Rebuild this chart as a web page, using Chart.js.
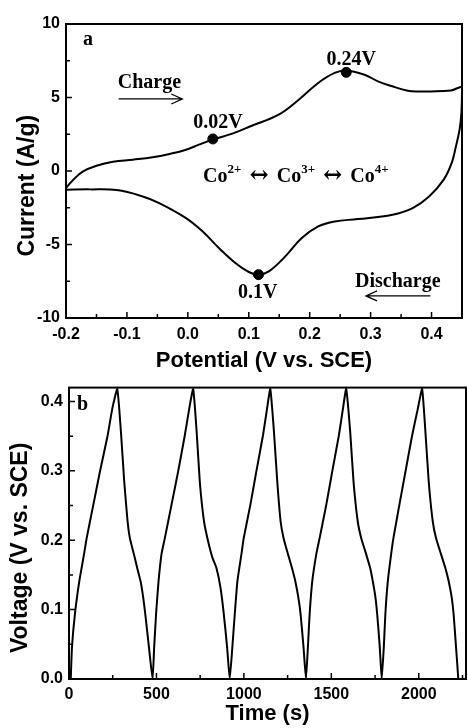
<!DOCTYPE html>
<html>
<head>
<meta charset="utf-8">
<script src="https://cdn.jsdelivr.net/npm/chart.js@4/dist/chart.umd.min.js"></script>
<style>
  html, body { margin: 0; padding: 0; background: #fff; }
  #wrap { position: relative; width: 468px; height: 728px; }
  #cv { position: absolute; left: 0; top: 0; }
  #gcd { position: absolute; left: 0; top: 372px; }
</style>
</head>
<body>
<div id="wrap">
  <canvas id="cv" width="468" height="372"></canvas>
  <canvas id="gcd" width="468" height="356"></canvas>
</div>
<script>
// (a) CV loop: anodic sweep -0.2 -> 0.45 V, then back along the cathodic branch
const cvPotential = [
  -0.2, -0.188, -0.172, -0.15, -0.123, -0.09, -0.058, -0.03, -0.003, 0.018, 0.04, 0.073,
  0.105, 0.149, 0.182, 0.214, 0.241, 0.26, 0.29, 0.312, 0.334, 0.361, 0.38, 0.399, 0.432, 0.45,
  0.449, 0.446, 0.44, 0.433, 0.42, 0.396, 0.369, 0.336, 0.279, 0.241, 0.214, 0.187, 0.16,
  0.133, 0.116, 0.1, 0.078, 0.051, 0.024, -0.003, -0.047, -0.074, -0.117, -0.16, -0.2
];
const cvCurrent = [
  -1.16, -0.59, -0.03, 0.36, 0.63, 0.77, 0.93, 1.16, 1.45, 1.79, 2.13, 2.54,
  3.08, 3.83, 4.85, 5.99, 6.67, 6.84, 6.55, 6.1, 5.78, 5.46, 5.41, 5.41, 5.48, 5.65,
  3.94, 2.81, 1.67, 0.54, -0.59, -1.73, -2.52, -2.97, -3.27, -3.43, -3.77, -4.56, -5.81,
  -6.83, -7.05, -6.87, -6.26, -5.24, -4.1, -3.2, -2.18, -1.73, -1.3, -1.25, -1.27
];
// marked redox peaks
const peakPotential = [0.041, 0.26, 0.116];
const peakCurrent = [2.18, 6.71, -7.05];
const peakLabels = ['0.02V', '0.24V', '0.1V'];

// (b) galvanostatic charge / discharge, 5 cycles
const gcdTime = [
  10, 17, 34, 59, 86, 101, 139, 177, 221, 247, 276,
  297, 316, 335, 348, 371, 390, 409, 424, 436, 457, 478,
  487, 498, 512, 529, 548, 586, 624, 662, 687, 710,
  730, 748, 772, 795, 820, 843, 866, 885, 904, 919,
  934, 948, 963, 986, 999, 1037, 1071, 1109, 1132, 1151,
  1172, 1191, 1210, 1227, 1252, 1275, 1294, 1311, 1324, 1341, 1355,
  1366, 1376, 1391, 1414, 1433, 1471, 1505, 1543, 1566, 1585,
  1608, 1627, 1651, 1671, 1699, 1722, 1737, 1752, 1762, 1777, 1788,
  1800, 1809, 1823, 1842, 1855, 1889, 1924, 1962, 1994, 2019,
  2038, 2057, 2080, 2099, 2127, 2152, 2171, 2188, 2199, 2213, 2226
];
const gcdVoltage = [
  0, 0.046, 0.094, 0.141, 0.18, 0.203, 0.251, 0.299, 0.351, 0.389, 0.418,
  0.356, 0.284, 0.227, 0.203, 0.18, 0.16, 0.141, 0.118, 0.094, 0.046, 0,
  0.046, 0.094, 0.141, 0.18, 0.203, 0.251, 0.299, 0.351, 0.389, 0.418,
  0.356, 0.284, 0.227, 0.199, 0.175, 0.16, 0.132, 0.094, 0.046, 0,
  0.046, 0.094, 0.141, 0.18, 0.203, 0.251, 0.299, 0.351, 0.389, 0.418,
  0.356, 0.284, 0.227, 0.203, 0.18, 0.16, 0.141, 0.118, 0.094, 0.046, 0,
  0.046, 0.094, 0.141, 0.18, 0.203, 0.251, 0.299, 0.351, 0.389, 0.418,
  0.356, 0.284, 0.227, 0.203, 0.18, 0.16, 0.141, 0.118, 0.094, 0.046, 0,
  0.046, 0.094, 0.141, 0.18, 0.203, 0.251, 0.299, 0.351, 0.389, 0.418,
  0.356, 0.284, 0.227, 0.203, 0.18, 0.16, 0.141, 0.118, 0.094, 0.046, 0
];

const cvTicksX = [-0.2, -0.1, 0, 0.1, 0.2, 0.3, 0.4];
const cvTicksY = [-10, -5, 0, 5, 10];
const gcdTicksX = [0, 500, 1000, 1500, 2000];
const gcdTicksY = [0, 0.1, 0.2, 0.3, 0.4];

const SANS = '"Liberation Sans", Arial, sans-serif';
const SERIF = '"Liberation Serif", "Times New Roman", serif';
const tickFont = { family: SANS, size: 16, weight: 'bold' };
const titleFont = { family: SANS, size: 22, weight: 'bold' };

// box round the plot + inward ticks (major from the scale, minor half way)
const framePlugin = {
  id: 'frame',
  afterDraw(chart) {
    const { ctx, chartArea: a, scales: { x, y } } = chart;
    const minors = (vals, max) => {
      const out = [];
      const step = vals[1] - vals[0];
      vals.forEach(v => { if (v + step / 2 < max - 1e-9) out.push(v + step / 2); });
      return out;
    };
    const xv = x.ticks.map(t => t.value);
    const yv = y.ticks.map(t => t.value);
    ctx.save();
    ctx.strokeStyle = '#000';
    ctx.lineWidth = 1.5;
    ctx.beginPath();
    xv.forEach(v => { const p = x.getPixelForValue(v); ctx.moveTo(p, a.bottom); ctx.lineTo(p, a.bottom - 6); });
    minors(xv, x.max).forEach(v => { const p = x.getPixelForValue(v); ctx.moveTo(p, a.bottom); ctx.lineTo(p, a.bottom - 4); });
    yv.forEach(v => { const p = y.getPixelForValue(v); ctx.moveTo(a.left, p); ctx.lineTo(a.left + 6, p); });
    minors(yv, y.max).forEach(v => { const p = y.getPixelForValue(v); ctx.moveTo(a.left, p); ctx.lineTo(a.left + 4, p); });
    ctx.stroke();
    ctx.lineWidth = 2;
    ctx.strokeRect(a.left, a.top, a.right - a.left, a.bottom - a.top);

    // rotated y title
    const yt = chart.options.plugins.frame;
    ctx.font = 'bold 23px ' + SANS;
    ctx.fillStyle = '#000';
    ctx.textAlign = 'center';
    ctx.textBaseline = 'middle';
    ctx.translate(yt.titleX, y.getPixelForValue(yt.titleAt));
    ctx.rotate(-Math.PI / 2);
    ctx.fillText(yt.title, 0, 0);
    ctx.restore();
  }
};

// text labels and arrows placed in data coordinates
const notesPlugin = {
  id: 'notes',
  afterDraw(chart) {
    const { ctx, scales: { x, y } } = chart;
    const notes = chart.options.plugins.notes.items;
    ctx.save();
    ctx.fillStyle = '#000';
    ctx.strokeStyle = '#000';
    ctx.textBaseline = 'alphabetic';
    notes.forEach(n => {
      if (n.arrow) {
        const x1 = x.getPixelForValue(n.from), x2 = x.getPixelForValue(n.to), py = y.getPixelForValue(n.y);
        const d = x2 > x1 ? -1 : 1;
        ctx.lineWidth = 1.3;
        ctx.beginPath();
        ctx.moveTo(x1, py); ctx.lineTo(x2, py);
        ctx.moveTo(x2 + d * 11, py - 5); ctx.lineTo(x2, py); ctx.lineTo(x2 + d * 11, py + 5);
        ctx.stroke();
      } else if (n.parts) {
        let px = x.getPixelForValue(n.x);
        const py = y.getPixelForValue(n.y);
        ctx.textAlign = 'left';
        n.parts.forEach(([s, kind]) => {
          if (kind === 'sup') ctx.font = 'bold 13px ' + SERIF;
          else if (kind === 'sym') ctx.font = 'bold 23px "DejaVu Serif", serif';
          else ctx.font = 'bold 20px ' + SERIF;
          ctx.fillText(s, px, kind === 'sup' ? py - 9 : py);
          px += ctx.measureText(s).width;
        });
      } else {
        ctx.font = 'bold 20px ' + SERIF;
        ctx.textAlign = n.align || 'center';
        ctx.fillText(n.text, x.getPixelForValue(n.x), y.getPixelForValue(n.y));
      }
    });
    ctx.restore();
  }
};

const fixedTicks = list => scale => { scale.ticks = list.map(value => ({ value })); };
const oneDecimal = v => (Math.abs(v) < 1e-9 ? 0 : v).toFixed(1);

new Chart(document.getElementById('cv'), {
  type: 'scatter',
  data: {
    datasets: [{
      data: peakPotential.map((p, i) => ({ x: p, y: peakCurrent[i] })),
      pointRadius: 5, pointBackgroundColor: '#000', pointBorderColor: '#000', showLine: false
    }, {
      data: cvPotential.map((p, i) => ({ x: p, y: cvCurrent[i] })),
      showLine: true, borderColor: '#000', borderWidth: 2, pointRadius: 0, tension: 0.4, fill: false
    }]
  },
  options: {
    responsive: false, animation: false, devicePixelRatio: 1,
    layout: { padding: { top: 24, right: 2, left: 0, bottom: 0 } },
    plugins: {
      legend: { display: false }, tooltip: { enabled: false },
      frame: { title: 'Current (A/g)', titleX: 28, titleAt: -1.0 },
      notes: { items: [
        { text: 'a', x: -0.172, y: 8.57, align: 'left' },
        { text: 'Charge', x: -0.063, y: 5.65 },
        { arrow: true, from: -0.1136, to: -0.0092, y: 4.9 },
        { text: peakLabels[0], x: 0.0495, y: 2.93 },
        { text: peakLabels[1], x: 0.268, y: 7.21 },
        { text: peakLabels[2], x: 0.1147, y: -8.64 },
        { text: 'Discharge', x: 0.3446, y: -7.89 },
        { arrow: true, from: 0.398, to: 0.2924, y: -8.5 },
        { parts: [['Co', ''], ['2+', 'sup'], [' \u2194 ', 'sym'], ['Co', ''], ['3+', 'sup'], [' \u2194 ', 'sym'], ['Co', ''], ['4+', 'sup']], x: 0.025, y: -0.75 }
      ] }
    },
    scales: {
      x: {
        type: 'linear', min: -0.2, max: 0.45,
        afterBuildTicks: fixedTicks(cvTicksX),
        afterFit: s => { s.height = 54; },
        grid: { display: false, drawTicks: false }, border: { display: false },
        ticks: { font: tickFont, color: '#000', padding: 7, maxRotation: 0, callback: oneDecimal },
        title: { display: true, text: 'Potential (V vs. SCE)', font: titleFont, color: '#000', padding: { top: 0, bottom: -2 } }
      },
      y: {
        type: 'linear', min: -10, max: 10,
        afterBuildTicks: fixedTicks(cvTicksY),
        afterFit: s => { s.width = 66; },
        grid: { display: false, drawTicks: false }, border: { display: false },
        ticks: { font: tickFont, color: '#000', padding: 6, callback: v => String(v) }
      }
    }
  },
  plugins: [framePlugin, notesPlugin]
});

new Chart(document.getElementById('gcd'), {
  type: 'scatter',
  data: {
    datasets: [{
      data: gcdTime.map((t, i) => ({ x: t, y: gcdVoltage[i] })),
      showLine: true, borderColor: '#000', borderWidth: 2, pointRadius: 0, tension: 0.15, fill: false
    }]
  },
  options: {
    responsive: false, animation: false, devicePixelRatio: 1,
    layout: { padding: { top: 13, right: 2, left: 0, bottom: 0 } },
    plugins: {
      legend: { display: false }, tooltip: { enabled: false },
      frame: { title: 'Voltage (V vs. SCE)', titleX: 21, titleAt: 0.189 },
      notes: { items: [{ text: 'b', x: 46, y: 0.387, align: 'left' }] }
    },
    scales: {
      x: {
        type: 'linear', min: 0, max: 2270,
        afterBuildTicks: fixedTicks(gcdTicksX),
        afterFit: s => { s.height = 49; },
        grid: { display: false, drawTicks: false }, border: { display: false },
        ticks: { font: tickFont, color: '#000', padding: 6, maxRotation: 0, callback: v => String(v) },
        title: { display: true, text: 'Time (s)', font: titleFont, color: '#000', padding: { top: 0, bottom: 1 } }
      },
      y: {
        type: 'linear', min: 0, max: 0.42,
        afterBuildTicks: fixedTicks(gcdTicksY),
        afterFit: s => { s.width = 69; },
        grid: { display: false, drawTicks: false }, border: { display: false },
        ticks: { font: tickFont, color: '#000', padding: 6, callback: oneDecimal }
      }
    }
  },
  plugins: [framePlugin, notesPlugin]
});
</script>
</body>
</html>
